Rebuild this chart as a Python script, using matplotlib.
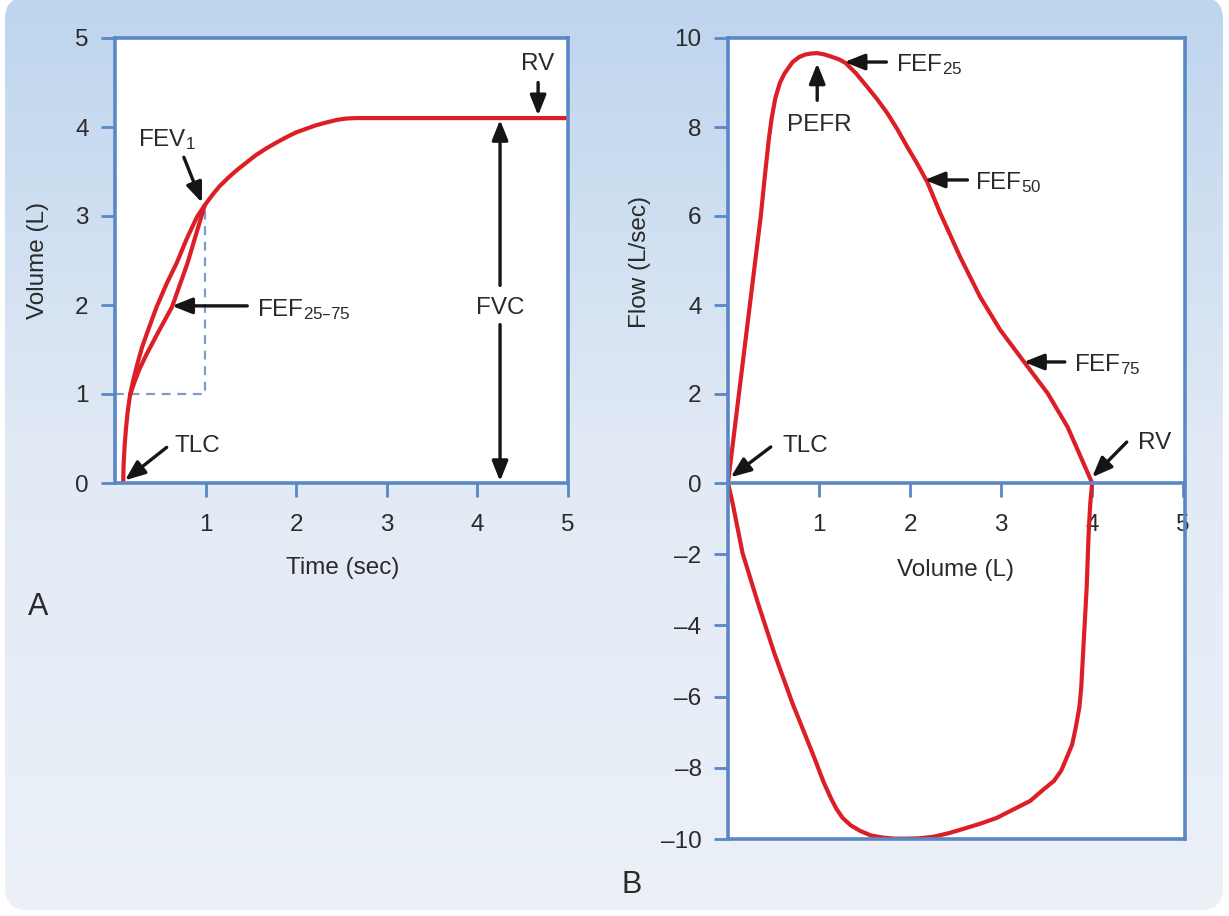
import numpy as np
import matplotlib
matplotlib.use("Agg")
import matplotlib.pyplot as plt
from matplotlib.patches import FancyBboxPatch
from matplotlib.colors import LinearSegmentedColormap

plt.rcParams['font.family'] = ['Liberation Sans', 'DejaVu Sans']
plt.rcParams['mathtext.default'] = 'regular'

# panel A: volume-time curve (forced expiration)
time_sec = [0.09, 0.095, 0.105, 0.12, 0.14, 0.166, 0.20, 0.25, 0.30, 0.37, 0.46, 0.57, 0.68,
            0.79, 0.905, 0.99, 1.07, 1.15, 1.25, 1.35, 1.45, 1.55, 1.67, 1.79, 1.90, 2.0,
            2.11, 2.22, 2.33, 2.45, 2.55, 2.66, 3.0, 4.0, 5.0]
volume_l = [0.0, 0.2, 0.4, 0.6, 0.8, 0.99, 1.15, 1.35, 1.53, 1.73, 1.98, 2.24, 2.47,
            2.74, 2.99, 3.12, 3.23, 3.33, 3.43, 3.52, 3.60, 3.68, 3.76, 3.83, 3.89, 3.94,
            3.98, 4.02, 4.05, 4.08, 4.095, 4.10, 4.10, 4.10, 4.10]
# FEF25-75 chord
chord_time = [0.166, 0.21, 0.27, 0.35, 0.48, 0.63, 0.80, 0.99]
chord_vol = [0.99, 1.12, 1.28, 1.45, 1.70, 1.98, 2.47, 3.12]
fev1_time, fev1_vol, low_vol = 0.99, 3.12, 1.0

# panel B: flow-volume loop
exp_vol = [0.0, 0.06, 0.12, 0.18, 0.24, 0.30, 0.36, 0.41, 0.45, 0.48, 0.52, 0.57, 0.62,
           0.71, 0.78, 0.85, 0.91, 0.98, 1.06, 1.15, 1.22, 1.29, 1.40, 1.53, 1.64, 1.75,
           1.86, 1.97, 2.08, 2.19, 2.33, 2.55, 2.77, 2.99, 3.26, 3.51, 3.73, 4.0]
exp_flow = [0.0, 1.0, 2.0, 3.0, 4.0, 5.0, 6.0, 7.0, 7.75, 8.2, 8.65, 8.99, 9.2,
            9.46, 9.57, 9.63, 9.65, 9.66, 9.63, 9.57, 9.52, 9.44, 9.22, 8.9, 8.62, 8.31,
            7.95, 7.55, 7.17, 6.76, 6.07, 5.08, 4.18, 3.44, 2.70, 2.02, 1.26, 0.0]
insp_vol = [4.0, 3.98, 3.97, 3.96, 3.94, 3.91, 3.88, 3.86, 3.82, 3.78, 3.72, 3.66, 3.58,
            3.46, 3.32, 3.15, 2.95, 2.77, 2.58, 2.42, 2.25, 2.10, 1.96, 1.83, 1.70, 1.57,
            1.45, 1.35, 1.26, 1.19, 1.13, 1.05, 0.93, 0.71, 0.51, 0.33, 0.16, 0.05, 0.0]
insp_flow = [0.0, -0.56, -1.0, -1.52, -2.93, -4.34, -5.75, -6.3, -6.87, -7.35, -7.72, -8.08, -8.37,
             -8.62, -8.93, -9.15, -9.41, -9.57, -9.72, -9.84, -9.94, -9.98, -9.99, -9.99, -9.96, -9.9,
             -9.77, -9.62, -9.41, -9.15, -8.85, -8.4, -7.6, -6.2, -4.79, -3.38, -1.97, -0.56, 0.0]

a_yticks = [0, 1, 2, 3, 4, 5]
a_xticks = [1, 2, 3, 4, 5]
b_yticks = [-10, -8, -6, -4, -2, 0, 2, 4, 6, 8, 10]
b_xticks = [1, 2, 3, 4, 5]

BLUE = '#5a87c6'
RED = '#dc1f26'
INK = '#2a2a2a'
FS = 17.5

fig = plt.figure(figsize=(12.29, 9.16), dpi=100)

# rounded gradient background
bg = fig.add_axes([0, 0, 1, 1], zorder=-10)
bg.set_axis_off()
cmap = LinearSegmentedColormap.from_list('bg', ['#bed5ee', '#e2eaf5', '#ecf1f8'])
im = bg.imshow(np.linspace(0, 1, 256).reshape(-1, 1), aspect='auto', cmap=cmap,
               extent=[0, 1, 0, 1], origin='upper')
box = FancyBboxPatch((0.05, 0.06), 12.18, 9.13, boxstyle='round,pad=0,rounding_size=0.22',
                     transform=fig.dpi_scale_trans, facecolor='none', edgecolor='none')
im.set_clip_path(box)


def style(ax):
    ax.set_facecolor('white')
    for s in ax.spines.values():
        s.set_color(BLUE)
        s.set_linewidth(2.6)
    ax.tick_params(colors=BLUE, labelcolor=INK, width=2, length=10, labelsize=FS)
    ax.tick_params(axis='y', pad=9)
    ax.tick_params(axis='x', pad=12)


def arrow(ax, tail, head):
    ax.annotate('', xy=head, xytext=tail,
                arrowprops=dict(arrowstyle='-|>,head_length=0.55,head_width=0.22', color='#151515',
                                lw=2.4, shrinkA=0, shrinkB=0, mutation_scale=22))


def curve(ax, x, y):
    ax.plot(x, y, color=RED, lw=3, solid_joinstyle='round', solid_capstyle='round')


# ---- A ----
axA = fig.add_axes([115 / 1229, 1 - 483 / 916, 453 / 1229, 445 / 916])
style(axA)
axA.set_xlim(0, 5)
axA.set_ylim(0, 5)
axA.set_xticks(a_xticks)
axA.set_yticks(a_yticks)
axA.plot([0, fev1_time, fev1_time], [low_vol, low_vol, fev1_vol], color='#7b9dca', lw=1.6,
         ls=(0, (4, 3)), zorder=1)
curve(axA, time_sec, volume_l)
curve(axA, chord_time, chord_vol)

axA.text(0.25, 3.78, 'FEV$_1$', fontsize=FS, color=INK, ha='left', va='baseline')
arrow(axA, (0.76, 3.66), (0.96, 3.15))
axA.text(1.57, 1.87, 'FEF$_{25\u201375}$', fontsize=FS, color=INK, ha='left', va='baseline')
arrow(axA, (1.46, 1.99), (0.63, 1.99))
axA.text(0.66, 0.35, 'TLC', fontsize=FS, color=INK, ha='left', va='baseline')
arrow(axA, (0.57, 0.40), (0.11, 0.03))
axA.text(4.67, 4.64, 'RV', fontsize=FS, color=INK, ha='center', va='baseline')
arrow(axA, (4.67, 4.5), (4.67, 4.13))
axA.text(4.25, 1.90, 'FVC', fontsize=FS, color=INK, ha='center', va='baseline')
arrow(axA, (4.25, 2.22), (4.25, 4.08))
arrow(axA, (4.25, 1.78), (4.25, 0.02))

axA.text(-0.17, 0.5, 'Volume (L)', rotation=90, transform=axA.transAxes, ha='center',
         va='center', fontsize=FS, color=INK)
axA.text(0.503, -0.19, 'Time (sec)', transform=axA.transAxes, ha='center', va='center',
         fontsize=FS, color=INK)
fig.text(38 / 1229, 1 - 607 / 916, 'A', fontsize=22, color=INK, ha='center', va='center')

# ---- B ----
axB = fig.add_axes([728 / 1229, 1 - 839 / 916, 457 / 1229, 801 / 916])
style(axB)


def fwd(y):
    y = np.asarray(y, dtype=float)
    return np.where(y < 0, 0.8 * y, y)


def inv(y):
    y = np.asarray(y, dtype=float)
    return np.where(y < 0, y / 0.8, y)


axB.set_yscale('function', functions=(fwd, inv))
axB.set_xlim(0, 5.02)
axB.set_ylim(-10, 10)
axB.set_yticks(b_yticks, [str(t).replace('-', '\u2013') for t in b_yticks])
axB.set_xticks(b_xticks)
axB.spines['bottom'].set_position(('data', 0))
axB.axhline(-10, color=BLUE, lw=2.6, clip_on=False, zorder=3)

curve(axB, exp_vol, exp_flow)
curve(axB, insp_vol, insp_flow)

axB.text(1.84, 9.26, 'FEF$_{25}$', fontsize=FS, color=INK, ha='left', va='baseline')
arrow(axB, (1.74, 9.46), (1.28, 9.46))
axB.text(1.0, 7.91, 'PEFR', fontsize=FS, color=INK, ha='center', va='baseline')
arrow(axB, (0.98, 8.6), (0.98, 9.43))
axB.text(2.71, 6.61, 'FEF$_{50}$', fontsize=FS, color=INK, ha='left', va='baseline')
arrow(axB, (2.63, 6.81), (2.16, 6.81))
axB.text(3.80, 2.52, 'FEF$_{75}$', fontsize=FS, color=INK, ha='left', va='baseline')
arrow(axB, (3.70, 2.72), (3.25, 2.72))
axB.text(0.60, 0.70, 'TLC', fontsize=FS, color=INK, ha='left', va='baseline')
arrow(axB, (0.47, 0.81), (0.03, 0.13))
axB.text(4.5, 0.76, 'RV', fontsize=FS, color=INK, ha='left', va='baseline')
arrow(axB, (4.38, 0.92), (4.0, 0.13))

axB.text(-0.193, 0.72, 'Flow (L/sec)', rotation=90, transform=axB.transAxes, ha='center',
         va='center', fontsize=FS, color=INK)
axB.text(0.497, 0.336, 'Volume (L)', transform=axB.transAxes, ha='center', va='center',
         fontsize=FS, color=INK)
fig.text(632 / 1229, 1 - 885 / 916, 'B', fontsize=22, color=INK, ha='center', va='center')

fig.savefig('out.png', dpi=100)
